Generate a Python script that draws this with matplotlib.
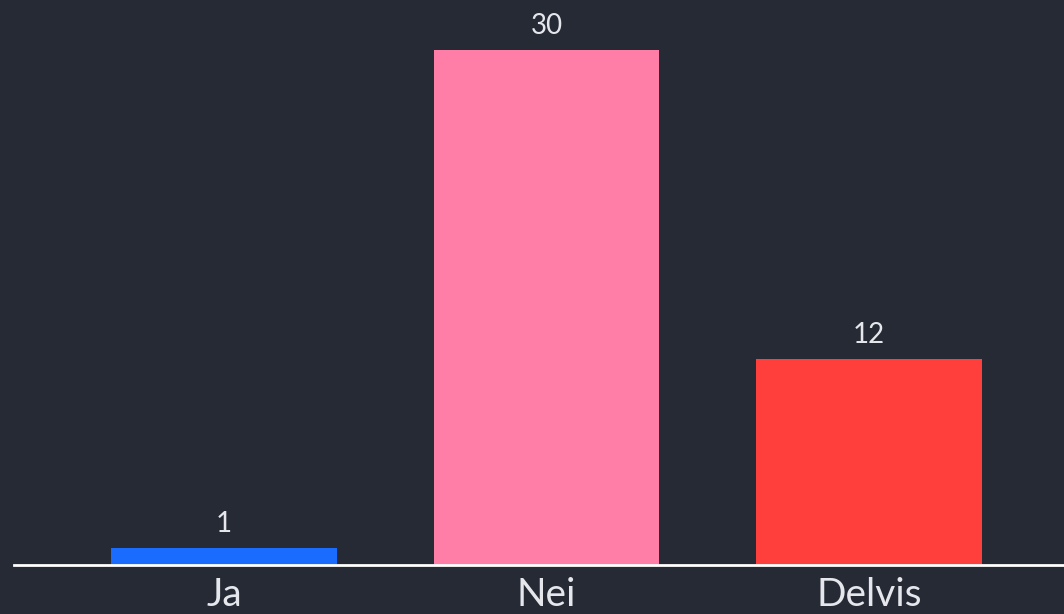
import matplotlib
matplotlib.use("Agg")
import matplotlib.pyplot as plt

categories = ["Ja", "Nei", "Delvis"]
values = [1, 30, 12]
colors = ["#1a6cff", "#ff7ea8", "#ff3f3b"]

BG = "#252a35"
TXT = "#e6e7ec"

fig = plt.figure(figsize=(10.64, 6.14), dpi=100, facecolor=BG)
ax = fig.add_axes([14/1064, 49/614, 1 - 14/1064, 1 - 49/614])
ax.set_facecolor(BG)

x = list(range(len(categories)))
bars = ax.bar(x, values, width=0.70, color=colors, zorder=2)

ax.set_xlim(-0.651, 2.605)
ax.set_ylim(0, 32.9)

for xi, v in zip(x, values):
    ax.annotate(str(v), (xi, v), xytext=(0, 8), textcoords="offset points",
                ha="center", va="bottom", color=TXT, fontsize=20, family="Lato")

ax.set_xticks(x)
ax.set_xticklabels(categories, fontsize=28, color=TXT, family="Lato")
ax.tick_params(axis="x", length=0, pad=9)
ax.set_yticks([])

for s in ["top", "right", "left"]:
    ax.spines[s].set_visible(False)
ax.spines["bottom"].set_color("white")
ax.spines["bottom"].set_linewidth(2)
ax.spines["bottom"].set_zorder(3)

fig.savefig("out.png", dpi=100, facecolor=BG)
